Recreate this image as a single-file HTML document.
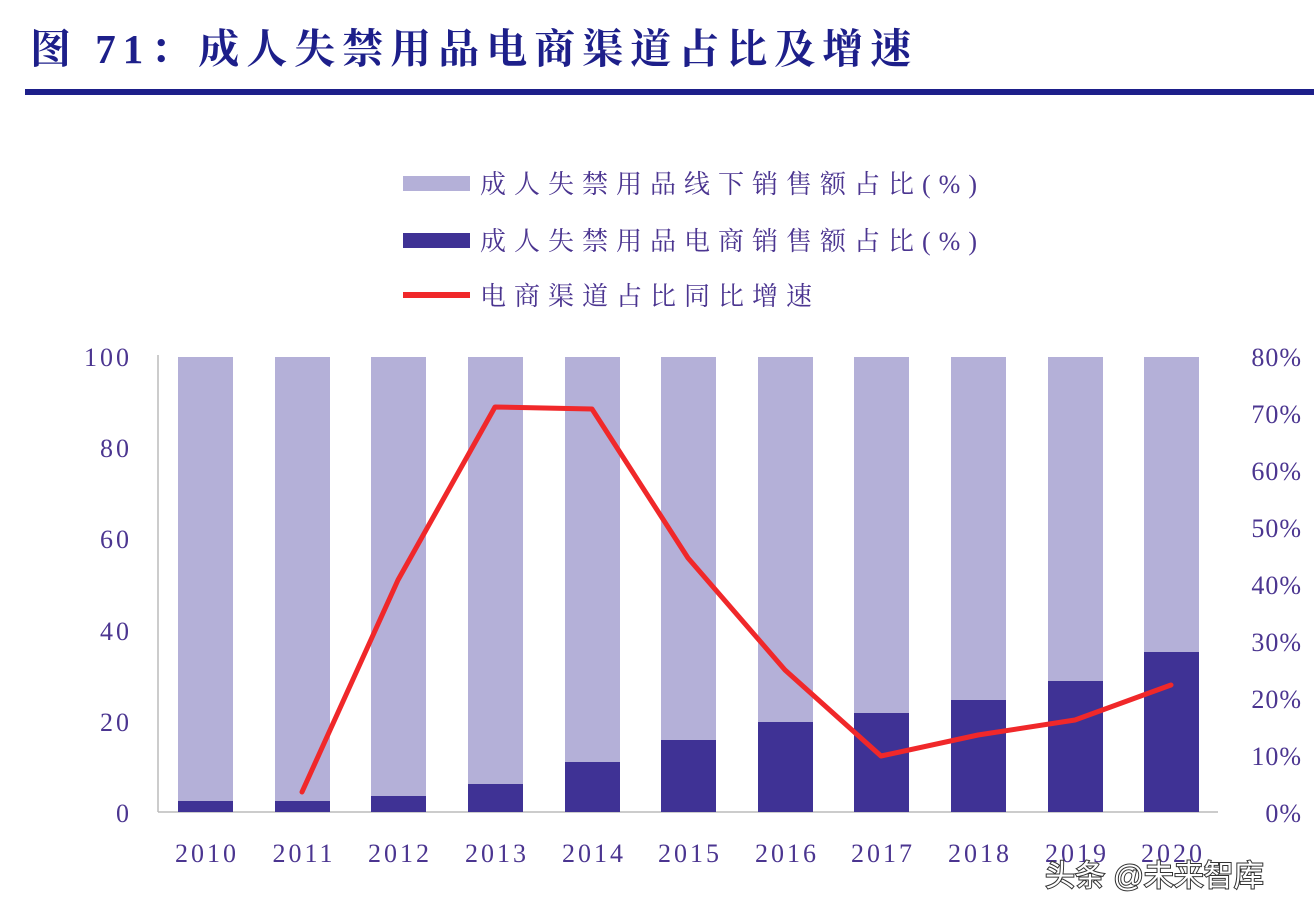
<!DOCTYPE html>
<html><head><meta charset="utf-8"><style>
html,body{margin:0;padding:0;background:#fff;}
body{width:1314px;height:916px;overflow:hidden;position:relative;}
</style></head><body>
<svg width="1314" height="916" xmlns="http://www.w3.org/2000/svg" style="position:absolute;left:0;top:0">
<text x="30" y="63" font-family="Liberation Serif, Noto Serif CJK SC, serif" font-weight="bold" font-size="41" fill="#1d1f8a" letter-spacing="7">图 71：成人失禁用品电商渠道占比及增速</text>
<rect x="25" y="89" width="1289" height="6" fill="#1d1f8a"/>
<g font-family="Liberation Serif, Noto Serif CJK SC, serif" font-size="26" fill="#4b3590" letter-spacing="8">
<rect x="403" y="176" width="67" height="15" fill="#b4b0d8"/>
<text x="480" y="193">成人失禁用品线下销售额占比(%)</text>
<rect x="403" y="233" width="67" height="15" fill="#3f3295"/>
<text x="480" y="250">成人失禁用品电商销售额占比(%)</text>
<rect x="403" y="292" width="67" height="6" fill="#f0282a"/>
<text x="480" y="305">电商渠道占比同比增速</text>
</g>
<line x1="158" y1="355" x2="158" y2="812" stroke="#bbb" stroke-width="1.5"/>
<line x1="158" y1="812" x2="1218" y2="812" stroke="#bbb" stroke-width="1.5"/>
<g font-family="Liberation Serif, serif" font-size="26" fill="#4b3590" text-anchor="end" letter-spacing="3">
<text x="132" y="366">100</text><text x="132" y="457">80</text><text x="132" y="548">60</text><text x="132" y="640">40</text><text x="132" y="731">20</text><text x="132" y="822">0</text>
</g>
<g font-family="Liberation Serif, serif" font-size="26" fill="#4b3590" text-anchor="end" letter-spacing="1">
<text x="1302" y="366">80%</text><text x="1302" y="423">70%</text><text x="1302" y="480">60%</text><text x="1302" y="537">50%</text><text x="1302" y="594">40%</text><text x="1302" y="651">30%</text><text x="1302" y="708">20%</text><text x="1302" y="765">10%</text><text x="1302" y="822">0%</text>
</g>
<g fill="#b4b0d8">
<rect x="178" y="357" width="55" height="455"/><rect x="275" y="357" width="55" height="455"/><rect x="371" y="357" width="55" height="455"/><rect x="468" y="357" width="55" height="455"/><rect x="565" y="357" width="55" height="455"/><rect x="661" y="357" width="55" height="455"/><rect x="758" y="357" width="55" height="455"/><rect x="854" y="357" width="55" height="455"/><rect x="951" y="357" width="55" height="455"/><rect x="1048" y="357" width="55" height="455"/><rect x="1144" y="357" width="55" height="455"/>
</g>
<g fill="#3f3295">
<rect x="178" y="801" width="55" height="11"/><rect x="275" y="801" width="55" height="11"/><rect x="371" y="796" width="55" height="16"/><rect x="468" y="784" width="55" height="28"/><rect x="565" y="762" width="55" height="50"/><rect x="661" y="740" width="55" height="72"/><rect x="758" y="722" width="55" height="90"/><rect x="854" y="713" width="55" height="99"/><rect x="951" y="700" width="55" height="112"/><rect x="1048" y="681" width="55" height="131"/><rect x="1144" y="652" width="55" height="160"/>
</g>
<g font-family="Liberation Serif, serif" font-size="26" fill="#4b3590" text-anchor="middle" letter-spacing="3">
<text x="207" y="862">2010</text><text x="304" y="862">2011</text><text x="400" y="862">2012</text><text x="497" y="862">2013</text><text x="594" y="862">2014</text><text x="690" y="862">2015</text><text x="787" y="862">2016</text><text x="883" y="862">2017</text><text x="980" y="862">2018</text><text x="1077" y="862">2019</text><text x="1173" y="862">2020</text>
</g>
<polyline points="302,792 398,580 495,407 592,409 688,558 785,670 881,756 978,735 1075,720 1171,685" fill="none" stroke="#f0282a" stroke-width="5" stroke-linejoin="round" stroke-linecap="round"/>
<text x="1045" y="886" font-family="Liberation Sans, Noto Sans CJK SC, sans-serif" font-size="30" fill="#fff" stroke="#333" stroke-width="2" paint-order="stroke">头条 @未来智库</text>
</svg>
</body></html>
